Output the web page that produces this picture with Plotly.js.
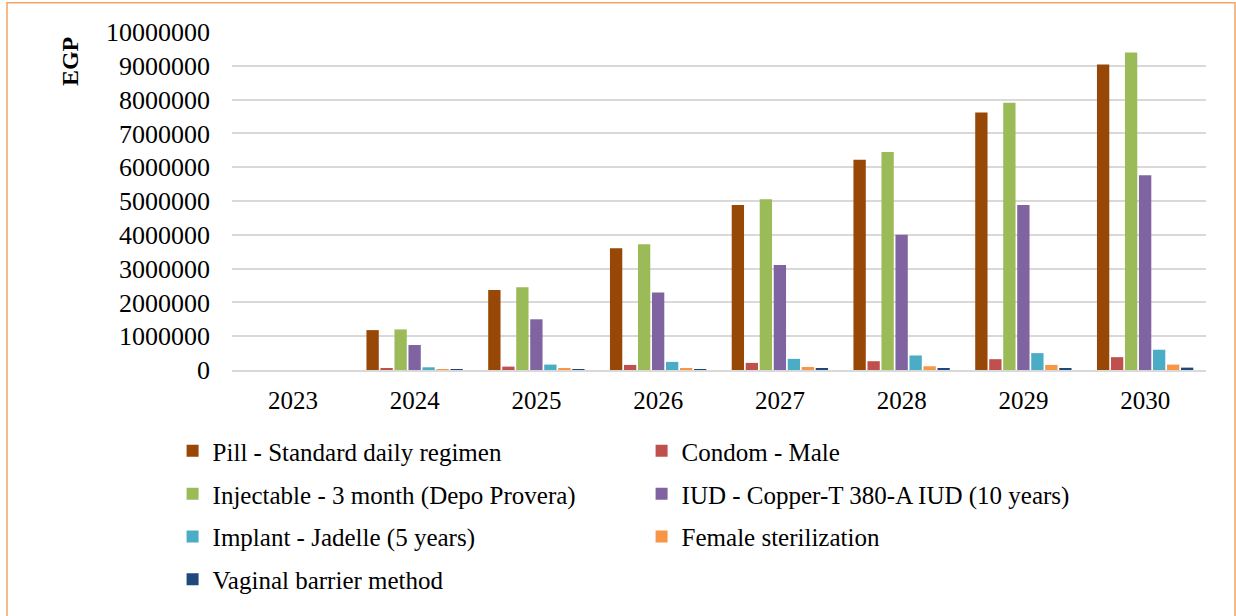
<!DOCTYPE html>
<html>
<head>
<meta charset="utf-8">
<script src="https://cdn.plot.ly/plotly-3.0.1.min.js"></script>
<style>
  html, body { margin: 0; padding: 0; background: #ffffff; }
  #chart { width: 1236px; height: 616px; }
</style>
</head>
<body>
<div id="chart"></div>
<script>
// ---- data ----
const years = ['2023', '2024', '2025', '2026', '2027', '2028', '2029', '2030'];
const pill       = [0, 1180000, 2370000, 3600000, 4880000, 6220000, 7620000, 9040000];
const condom     = [0, 50000, 100000, 150000, 210000, 260000, 320000, 380000];
const injectable = [0, 1200000, 2450000, 3720000, 5050000, 6450000, 7910000, 9390000];
const iud        = [0, 740000, 1500000, 2290000, 3110000, 4000000, 4880000, 5760000];
const implant    = [0, 80000, 160000, 240000, 330000, 430000, 500000, 600000];
const female     = [0, 20000, 50000, 60000, 90000, 110000, 150000, 160000];
const vaginal    = [0, 10000, 20000, 25000, 40000, 50000, 60000, 70000];

const seriesNames = [
  'Pill - Standard daily regimen',
  'Condom - Male',
  'Injectable - 3 month (Depo Provera)',
  'IUD - Copper-T 380-A IUD (10 years)',
  'Implant - Jadelle (5 years)',
  'Female sterilization',
  'Vaginal barrier method'
];
const seriesValues = [pill, condom, injectable, iud, implant, female, vaginal];
const seriesColors = ['#974706', '#C0504D', '#9BBB59', '#8064A2', '#4BACC6', '#F79646', '#1F497D'];
const legendOf = ['legend', 'legend', 'legend2', 'legend2', 'legend3', 'legend3', 'legend4'];
const yTitle = 'EGP';

const traces = seriesNames.map((name, i) => ({
  type: 'bar',
  name: name,
  x: years,
  y: seriesValues[i],
  legend: legendOf[i],
  marker: { color: seriesColors[i], line: { width: 0 } },
  hoverinfo: 'x+y+name'
}));

const font = 'Liberation Serif, Times New Roman, serif';
const legendBase = {
  orientation: 'h',
  xanchor: 'left',
  yanchor: 'middle',
  x: -0.061,
  entrywidth: 424,
  entrywidthmode: 'pixels',
  font: { family: font, size: 25, color: '#000000' },
  bgcolor: 'rgba(0,0,0,0)',
  traceorder: 'normal'
};

const layout = {
  width: 1236,
  height: 616,
  margin: { l: 232, r: 30, t: 32, b: 246, pad: 0 },
  paper_bgcolor: '#ffffff',
  plot_bgcolor: '#ffffff',
  font: { family: font, color: '#000000' },
  barmode: 'group',
  bargap: 0.195,
  bargroupgap: 0.12,
  xaxis: {
    type: 'category',
    showgrid: false,
    showline: true,
    linecolor: '#d9d9d9',
    linewidth: 2,
    ticks: '',
    tickfont: { family: font, size: 25, color: '#000000' },
    ticklabelstandoff: 7,
    zeroline: false,
    fixedrange: true
  },
  yaxis: {
    range: [0, 10000000],
    dtick: 1000000,
    tickformat: 'd',
    showgrid: true,
    gridcolor: '#d9d9d9',
    gridwidth: 2,
    zeroline: false,
    showline: false,
    ticks: '',
    ticklabelstandoff: 21,
    tickfont: { family: font, size: 26, color: '#000000' },
    fixedrange: true
  },
  annotations: [{
    text: '<b>' + yTitle + '</b>',
    xref: 'paper', yref: 'paper',
    x: -0.167, y: 0.912,
    xanchor: 'center', yanchor: 'middle',
    textangle: -90,
    showarrow: false,
    font: { family: font, size: 24, color: '#000000' }
  }],
  legend:  Object.assign({}, legendBase, { y: -0.240 }),
  legend2: Object.assign({}, legendBase, { y: -0.367 }),
  legend3: Object.assign({}, legendBase, { y: -0.493 }),
  legend4: Object.assign({}, legendBase, { y: -0.620 }),
  shapes: [{
    type: 'rect', xref: 'paper', yref: 'paper',
    x0: -0.231, x1: 1.0298, y0: -0.78, y1: 1.0868,
    line: { color: '#F4A460', width: 1.5 },
    fillcolor: 'rgba(0,0,0,0)',
    layer: 'below'
  }]
};

Plotly.newPlot('chart', traces, layout, { displayModeBar: false });
</script>
</body>
</html>
